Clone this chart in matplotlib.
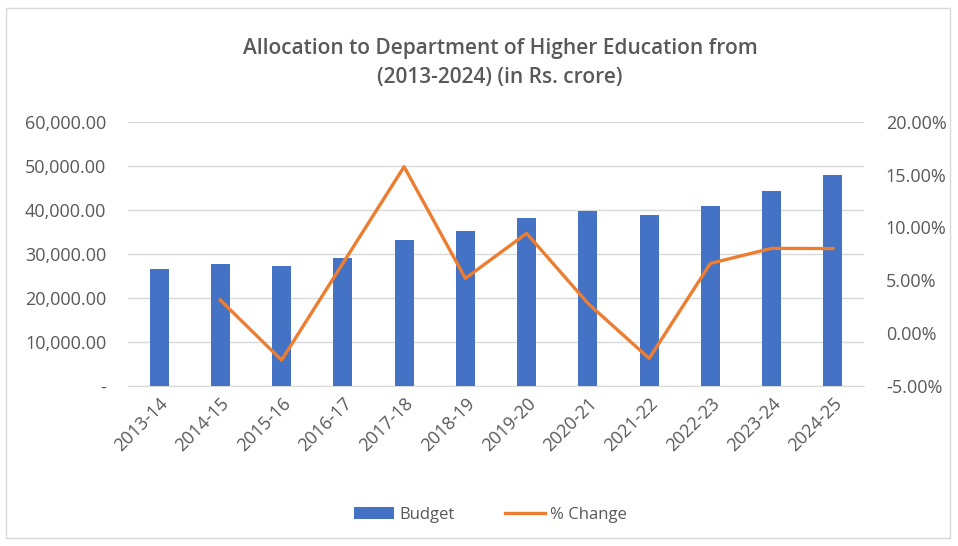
import matplotlib
matplotlib.use("Agg")
import matplotlib.pyplot as plt
from matplotlib.ticker import FuncFormatter, MultipleLocator
from matplotlib.patches import Rectangle

years = ["2013-14", "2014-15", "2015-16", "2016-17", "2017-18", "2018-19",
         "2019-20", "2020-21", "2021-22", "2022-23", "2023-24", "2024-25"]
budget = [26600, 27650, 27270, 29160, 33250, 35160, 38180, 39770, 38860, 40750, 44320, 47800]
pct_years = years[1:]
pct_change = [3.13, -2.55, 6.6, 15.74, 5.18, 9.44, 2.82, -2.39, 6.6, 8.02, 8.0]

plt.rcParams['font.family'] = ['Open Sans', 'DejaVu Sans']
W, H = 958, 546
fig = plt.figure(figsize=(W / 100, H / 100), dpi=100)
ax = fig.add_axes([128.4 / W, 1 - 386 / H, (863.6 - 128.4) / W, (386 - 121.7) / H])
fig.patches.append(Rectangle((6 / W, 8 / H), (W - 14) / W, (H - 16) / H, transform=fig.transFigure,
                             fill=False, edgecolor='#d9d9d9', linewidth=1))

x = list(range(len(years)))
ax.bar(x, budget, width=0.31, color='#4472C4', label='Budget', zorder=3)
ax.set_ylim(0, 60000)
ax.set_xlim(-0.5, len(years) - 0.5)
ax.yaxis.set_major_locator(MultipleLocator(10000))
ax.yaxis.set_major_formatter(FuncFormatter(lambda v, p: '-' if v == 0 else f'{v:,.2f}'))
ax.grid(axis='y', color='#d9d9d9', linewidth=1, zorder=0)
ax.set_xticks(x)
ax.set_xticklabels(years, rotation=45, ha='right', rotation_mode='anchor')
for s in ax.spines.values():
    s.set_visible(False)
ax.spines['bottom'].set_visible(True)
ax.spines['bottom'].set_color('#d9d9d9')
ax.tick_params(axis='both', length=0, colors='#595959', labelsize=13)
ax.tick_params(axis='y', pad=16)
ax.tick_params(axis='x', pad=6)

ax2 = ax.twinx()
xi = [years.index(y) for y in pct_years]
ax2.plot(xi, pct_change, color='#ED7D31', linewidth=2.4, label='% Change', zorder=4)
ax2.set_ylim(-5, 20)
ax2.yaxis.set_major_locator(MultipleLocator(5))
ax2.yaxis.set_major_formatter(FuncFormatter(lambda v, p: f'{v:.2f}%'))
for s in ax2.spines.values():
    s.set_visible(False)
ax2.tick_params(axis='y', length=0, colors='#595959', labelsize=13, pad=16)

fig.text(0.522, 1 - 63 / H, "Allocation to Department of Higher Education from\n(2013-2024) (in Rs. crore)",
         ha='center', va='center', fontsize=15, fontweight='semibold', color='#595959', linespacing=1.5)

h1, l1 = ax.get_legend_handles_labels()
h2, l2 = ax2.get_legend_handles_labels()
fig.legend(h1 + h2, l1 + l2, loc='center', bbox_to_anchor=(0.512, 1 - 515 / H), ncol=2,
           frameon=False, fontsize=12, labelcolor='#595959', handlelength=2.4, columnspacing=3.0,
           handletextpad=0.3)

fig.savefig("out.png", dpi=100)
